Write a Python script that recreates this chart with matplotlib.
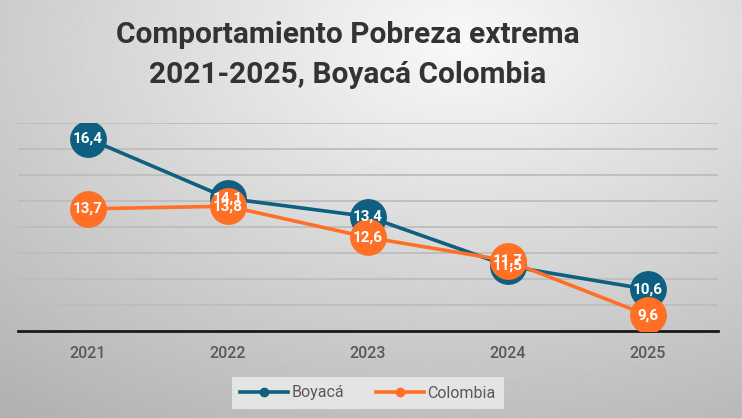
import numpy as np
import matplotlib
matplotlib.use("Agg")
import matplotlib.pyplot as plt

years = ["2021", "2022", "2023", "2024", "2025"]
boyaca = [16.4, 14.1, 13.4, 11.5, 10.6]
colombia = [13.7, 13.8, 12.6, 11.7, 9.6]

blue = "#0f5f80"
orange = "#ff7026"

plt.rcParams["font.family"] = ["Roboto", "DejaVu Sans"]

fig = plt.figure(figsize=(7.42, 4.18), dpi=100)

# background gradient
bg = fig.add_axes([0, 0, 1, 1], zorder=-10)
yy, xx = np.mgrid[0:1:200j, 0:1:300j]
d = np.sqrt(((xx - 0.62) * 1.0) ** 2 + ((yy - 0.1) * 0.9) ** 2)
shade = 0.975 - 0.28 * np.clip(d, 0, 1)
bg.imshow(shade, cmap="gray", vmin=0, vmax=1, aspect="auto",
          extent=[0, 1, 1, 0])
bg.axis("off")

ax = fig.add_axes([18 / 742, 1 - 331 / 418, 700 / 742, 208 / 418])
ax.patch.set_alpha(0)
x = np.arange(len(years))

ax.plot(x, boyaca, color=blue, lw=2.6, marker="o", ms=25.5, label="Boyacá",
        zorder=3)
ax.plot(x, colombia, color=orange, lw=2.6, marker="o", ms=25.5,
        label="Colombia", zorder=4)

for xi, v in zip(x, boyaca):
    ax.text(xi, v, f"{v:.1f}".replace(".", ","), color="white",
            fontsize=11, fontweight="bold", ha="center", va="center",
            zorder=6)
for xi, v in zip(x, colombia):
    ax.text(xi, v, f"{v:.1f}".replace(".", ","), color="white",
            fontsize=11, fontweight="bold", ha="center", va="center",
            zorder=6)

ax.set_xlim(-0.5, 4.5)
ax.set_ylim(9, 17)
ax.set_yticks(np.arange(9, 18, 1))
ax.yaxis.grid(True, color="#bdbdbd", lw=1.3)
ax.set_axisbelow(True)
ax.tick_params(axis="y", left=False, labelleft=False)
ax.tick_params(axis="x", length=0, pad=11, labelsize=11.5, labelcolor="#595959")
ax.set_xticks(x)
ax.set_xticklabels(years, fontweight="medium")
for s in ["top", "right", "left"]:
    ax.spines[s].set_visible(False)
ax.spines["bottom"].set_color("#1a1a1a")
ax.spines["bottom"].set_linewidth(2)
ax.spines["bottom"].set_zorder(2)

leg = fig.legend(handles=[plt.Line2D([], [], color=blue, lw=2.6, marker="o", ms=6),
                          plt.Line2D([], [], color=orange, lw=2.6, marker="o", ms=6)],
                 labels=["Boyacá", "Colombia"], loc="center",
                 bbox_to_anchor=(368 / 742, 1 - 393 / 418), ncol=2,
                 fontsize=11.5, frameon=True, handlelength=3.0,
                 columnspacing=2.0, handletextpad=0.2, borderpad=0.55,
                 fancybox=False, labelcolor="#595959")
leg.get_frame().set_facecolor("#e4e4e4")
leg.get_frame().set_edgecolor("none")
leg.get_frame().set_alpha(1)

fig.text(348 / 742, 1 - 35 / 418, "Comportamiento Pobreza extrema",
         ha="center", va="center", fontsize=21.5, fontweight="bold",
         color="#333333")
fig.text(348 / 742, 1 - 75 / 418, "2021-2025, Boyacá Colombia",
         ha="center", va="center", fontsize=21.5, fontweight="bold",
         color="#333333")

fig.savefig("out.png", dpi=100)
